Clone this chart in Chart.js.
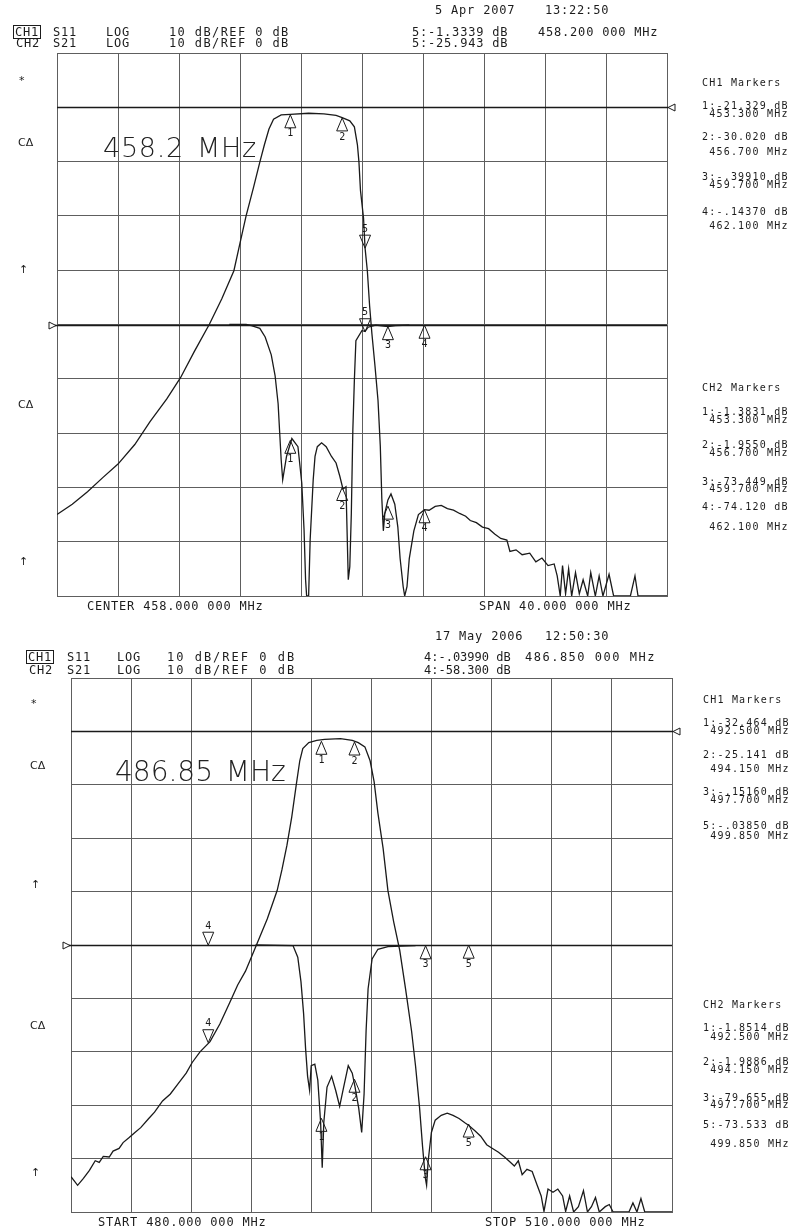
<!DOCTYPE html>
<html>
<head>
<meta charset="utf-8">
<script src="https://cdn.jsdelivr.net/npm/chart.js@4.4.1/dist/chart.umd.min.js"></script>
<style>
  body { margin: 0; background: #fff; }
  #page { position: relative; width: 793px; height: 1230px; overflow: hidden; background: #fff; color: #1c1c1c; }
  canvas { position: absolute; left: 0; }
  .t { position: absolute; font-family: "DejaVu Sans Mono", monospace; font-size: 12px; line-height: 12px; letter-spacing: 0.8px; white-space: pre; }
  .r { letter-spacing: 0; }
  .m { font-size: 10px; line-height: 10px; letter-spacing: 1.2px; }
  .s { font-family: "DejaVu Sans", sans-serif; font-size: 11px; line-height: 11px; letter-spacing: 0; }
  .big { font-family: "DejaVu Sans ExtraLight", "DejaVu Sans", sans-serif; font-weight: 200; font-size: 27px; line-height: 27px; letter-spacing: 0.7px; word-spacing: 4px; color: #222; }
  .box { border: 1px solid #1c1c1c; padding: 0 1px; margin-left: -3px; margin-top: -1px; }
</style>
</head>
<body>
<div id="page">
  <canvas id="topChart" width="793" height="615" style="top:0"></canvas>
  <canvas id="botChart" width="793" height="615" style="top:615px"></canvas>

  <!-- top analyzer header -->
  <div class="t" style="left:435px;top:4px">5 Apr 2007</div>
  <div class="t" style="left:545px;top:4px">13:22:50</div>
  <div class="t box" style="left:16px;top:26px">CH1</div>
  <div class="t" style="left:53px;top:26px">S11</div>
  <div class="t" style="left:106px;top:26px">LOG</div>
  <div class="t" style="left:169px;top:26px;letter-spacing:1.4px">10 dB/REF 0 dB</div>
  <div class="t" style="left:412px;top:26px">5:-1.3339 dB</div>
  <div class="t" style="left:538px;top:26px">458.200 000 MHz</div>
  <div class="t" style="left:16px;top:37px">CH2</div>
  <div class="t" style="left:53px;top:37px">S21</div>
  <div class="t" style="left:106px;top:37px">LOG</div>
  <div class="t" style="left:169px;top:37px;letter-spacing:1.4px">10 dB/REF 0 dB</div>
  <div class="t" style="left:412px;top:37px">5:-25.943 dB</div>

  <div class="t s" style="left:19px;top:75px">*</div>
  <div class="t s" style="left:18px;top:137px">CΔ</div>
  <div class="t s" style="left:19px;top:264px">↑</div>
  <div class="t s" style="left:18px;top:399px">CΔ</div>
  <div class="t s" style="left:19px;top:556px">↑</div>

  <div class="t big" style="left:103px;top:134px">458.2 MHz</div>

  <div class="t" style="left:87px;top:600px">CENTER 458.000 000 MHz</div>
  <div class="t" style="left:479px;top:600px">SPAN 40.000 000 MHz</div>

  <div class="t m" style="left:702px;top:78px">CH1 Markers</div>
  <div class="t m" style="left:702px;top:101px">1:-21.329 dB</div>
  <div class="t m" style="left:702px;top:109px"> 453.300 MHz</div>
  <div class="t m" style="left:702px;top:132px">2:-30.020 dB</div>
  <div class="t m" style="left:702px;top:147px"> 456.700 MHz</div>
  <div class="t m" style="left:702px;top:172px">3:-.39910 dB</div>
  <div class="t m" style="left:702px;top:180px"> 459.700 MHz</div>
  <div class="t m" style="left:702px;top:207px">4:-.14370 dB</div>
  <div class="t m" style="left:702px;top:221px"> 462.100 MHz</div>
  <div class="t m" style="left:702px;top:383px">CH2 Markers</div>
  <div class="t m" style="left:702px;top:407px">1:-1.3831 dB</div>
  <div class="t m" style="left:702px;top:415px"> 453.300 MHz</div>
  <div class="t m" style="left:702px;top:440px">2:-1.9550 dB</div>
  <div class="t m" style="left:702px;top:448px"> 456.700 MHz</div>
  <div class="t m" style="left:702px;top:477px">3:-73.449 dB</div>
  <div class="t m" style="left:702px;top:484px"> 459.700 MHz</div>
  <div class="t m" style="left:702px;top:502px">4:-74.120 dB</div>
  <div class="t m" style="left:702px;top:522px"> 462.100 MHz</div>

  <!-- bottom analyzer header -->
  <div class="t" style="left:435px;top:630px">17 May 2006</div>
  <div class="t" style="left:545px;top:630px">12:50:30</div>
  <div class="t box" style="left:29px;top:651px">CH1</div>
  <div class="t" style="left:67px;top:651px">S11</div>
  <div class="t" style="left:117px;top:651px">LOG</div>
  <div class="t" style="left:167px;top:651px;letter-spacing:2px">10 dB/REF 0 dB</div>
  <div class="t r" style="left:424px;top:651px">4:-.03990 dB</div>
  <div class="t" style="left:525px;top:651px;letter-spacing:1.5px">486.850 000 MHz</div>
  <div class="t" style="left:29px;top:664px">CH2</div>
  <div class="t" style="left:67px;top:664px">S21</div>
  <div class="t" style="left:117px;top:664px">LOG</div>
  <div class="t" style="left:167px;top:664px;letter-spacing:2px">10 dB/REF 0 dB</div>
  <div class="t r" style="left:424px;top:664px">4:-58.300 dB</div>

  <div class="t s" style="left:31px;top:698px">*</div>
  <div class="t s" style="left:30px;top:760px">CΔ</div>
  <div class="t s" style="left:31px;top:879px">↑</div>
  <div class="t s" style="left:30px;top:1020px">CΔ</div>
  <div class="t s" style="left:31px;top:1167px">↑</div>

  <div class="t big" style="left:115px;top:758px;font-size:28px;line-height:28px;letter-spacing:0">486.85 MHz</div>

  <div class="t" style="left:98px;top:1216px">START 480.000 000 MHz</div>
  <div class="t" style="left:485px;top:1216px">STOP 510.000 000 MHz</div>

  <div class="t m" style="left:703px;top:695px">CH1 Markers</div>
  <div class="t m" style="left:703px;top:718px">1:-32.464 dB</div>
  <div class="t m" style="left:703px;top:726px"> 492.500 MHz</div>
  <div class="t m" style="left:703px;top:750px">2:-25.141 dB</div>
  <div class="t m" style="left:703px;top:764px"> 494.150 MHz</div>
  <div class="t m" style="left:703px;top:787px">3:-.15160 dB</div>
  <div class="t m" style="left:703px;top:795px"> 497.700 MHz</div>
  <div class="t m" style="left:703px;top:821px">5:-.03850 dB</div>
  <div class="t m" style="left:703px;top:831px"> 499.850 MHz</div>
  <div class="t m" style="left:703px;top:1000px">CH2 Markers</div>
  <div class="t m" style="left:703px;top:1023px">1:-1.8514 dB</div>
  <div class="t m" style="left:703px;top:1032px"> 492.500 MHz</div>
  <div class="t m" style="left:703px;top:1057px">2:-1.9886 dB</div>
  <div class="t m" style="left:703px;top:1065px"> 494.150 MHz</div>
  <div class="t m" style="left:703px;top:1093px">3:-79.655 dB</div>
  <div class="t m" style="left:703px;top:1100px"> 497.700 MHz</div>
  <div class="t m" style="left:703px;top:1120px">5:-73.533 dB</div>
  <div class="t m" style="left:703px;top:1139px"> 499.850 MHz</div>
</div>

<script>
// ---- sweep settings (MHz, dB) ----
const topStart = 438, topStop = 478;     // center 458, span 40
const botStart = 480, botStop = 510;
const dbPerDiv = 10;
const s21Range = [-90, 10];   // CH2 ref 0 dB at division 9
const s11Range = [-50, 50];   // CH1 ref 0 dB at division 5

// ---- top sweep: S21 transmission ----
const topS21Freq = [438.0, 439.0, 440.0, 441.0, 442.0, 443.1, 444.1, 445.2, 446.1, 447.0,
  448.0, 448.8, 449.6, 450.0, 450.4, 450.9, 451.3, 451.6, 451.9, 452.2,
  452.7, 453.3, 454.5, 455.5, 456.3, 456.7, 457.2, 457.5, 457.7, 457.8,
  457.9, 458.1, 458.2, 458.35, 458.5, 458.65, 458.85, 459.05, 459.2, 459.3,
  459.4, 459.5, 459.7, 459.9, 460.15, 460.35, 460.5, 460.7, 460.8, 460.95,
  461.1, 461.4, 461.7, 462.1, 462.4, 462.8, 463.2, 463.6, 464.0, 464.4,
  464.8, 465.1, 465.5, 465.9, 466.3, 466.7, 467.1, 467.5, 467.7, 468.1,
  468.5, 469.0, 469.4, 469.8, 470.2, 470.6, 470.8, 471.0, 471.15, 471.35,
  471.55, 471.75, 472.0, 472.25, 472.5, 472.8, 473.0, 473.3, 473.55, 473.8,
  474.2, 474.5, 475.6, 475.9, 476.1, 478.0];
const topS21Db = [-75.0, -73.1, -70.8, -68.2, -65.7, -62.1, -57.9, -53.7, -49.8, -45.0,
  -39.9, -35.3, -30.1, -25.0, -20.0, -14.6, -10.1, -6.9, -4.0, -2.2,
  -1.4, -1.3, -1.1, -1.2, -1.5, -1.9, -2.5, -3.6, -6.9, -10.1,
  -15.3, -20.4, -25.9, -30.1, -36.6, -41.7, -47.6, -54.0, -62.4, -72.1,
  -78.0, -74.7, -72.3, -71.2, -73.1, -77.3, -83.1, -88.3, -90.0, -88.3,
  -83.1, -78.0, -75.0, -74.1, -74.2, -73.5, -73.3, -73.9, -74.2, -74.8,
  -75.3, -76.1, -76.5, -77.3, -77.6, -78.6, -79.4, -79.7, -81.8, -81.5,
  -82.4, -82.1, -83.7, -83.0, -84.4, -84.1, -86.3, -90.0, -84.4, -89.6,
  -85.0, -90.0, -85.7, -89.6, -87.0, -90.0, -85.7, -90.0, -86.3, -90.0,
  -86.0, -90.0, -90.0, -86.3, -90.0, -90.0];

// ---- top sweep: S11 reflection ----
const topS11Freq = [449.3, 450.4, 450.75, 451.3, 451.65, 452.05, 452.3, 452.5, 452.6, 452.7,
  452.8, 453.05, 453.4, 453.8, 454.05, 454.2, 454.3, 454.37, 454.5, 454.6,
  454.8, 454.92, 455.07, 455.35, 455.65, 456.0, 456.3, 456.55, 456.75, 456.95,
  457.1, 457.2, 457.3, 457.4, 457.5, 457.6, 458.0, 458.2, 458.4, 458.9,
  459.7, 460.2, 461.1];
const topS11Db = [0.0, 0.0, -0.2, -0.7, -2.3, -5.6, -9.4, -14.6, -19.8, -24.9,
  -28.6, -24.3, -21.0, -22.5, -29.2, -37.8, -47.0, -50.0, -50.0, -39.7,
  -28.6, -24.3, -22.5, -21.8, -22.5, -24.3, -25.5, -28.0, -30.3, -29.9,
  -47.0, -44.6, -34.8, -19.4, -10.2, -3.0, -1.1, -1.3, -0.5, -0.1,
  -0.4, -0.2, -0.1];

// ---- top markers (number, MHz, CH1 S11 dB, CH2 S21 dB) ----
const topMarkerNum = [1, 2, 3, 4, 5];
const topMarkerFreq = [453.3, 456.7, 459.7, 462.1, 458.2];
const topMarkerS11 = [-21.329, -30.020, -0.39910, -0.14370, -1.3339];
const topMarkerS21 = [-1.3831, -1.9550, -73.449, -74.120, -25.943];
const topActive = 5;

// ---- bottom sweep: S21 transmission ----
const botS21Freq = [480.0, 480.33, 480.62, 480.92, 481.21, 481.41, 481.61, 481.91, 482.1, 482.4,
  482.6, 482.89, 483.19, 483.48, 483.88, 484.17, 484.57, 484.96, 485.36, 485.75,
  486.05, 486.44, 486.94, 487.43, 487.92, 488.32, 488.71, 489.21, 489.8, 490.29,
  490.53, 490.78, 491.02, 491.24, 491.42, 491.57, 491.87, 492.27, 492.66, 493.45,
  494.04, 494.34, 494.67, 494.93, 495.13, 495.32, 495.58, 495.82, 496.11, 496.41,
  496.7, 497.0, 497.2, 497.4, 497.55, 497.69, 497.75, 497.83, 497.99, 498.18,
  498.48, 498.78, 499.07, 499.37, 499.66, 499.86, 500.16, 500.45, 500.75, 501.04,
  501.34, 501.64, 501.93, 502.13, 502.33, 502.52, 502.76, 503.02, 503.27, 503.47,
  503.61, 503.81, 504.06, 504.3, 504.54, 504.69, 504.89, 505.09, 505.33, 505.58,
  505.78, 505.98, 506.18, 506.37, 506.67, 506.87, 507.06, 507.85, 508.05, 508.25,
  508.45, 508.64, 510.0];
const botS21Db = [-83.4, -85.0, -83.7, -82.2, -80.4, -80.7, -79.6, -79.7, -78.6, -78.1,
  -77.0, -76.1, -75.1, -74.2, -72.5, -71.3, -69.2, -67.9, -65.9, -64.0,
  -62.0, -60.0, -58.1, -54.8, -50.8, -47.5, -44.9, -40.4, -35.1, -29.8,
  -25.9, -21.3, -16.0, -10.1, -5.5, -3.2, -2.1, -1.7, -1.5, -1.35,
  -1.7, -2.1, -2.9, -5.5, -9.4, -15.3, -21.9, -29.8, -35.7, -41.0,
  -48.2, -56.1, -62.7, -70.5, -77.8, -83.7, -85.0, -80.4, -75.1, -72.8,
  -71.9, -71.5, -71.9, -72.5, -73.3, -73.8, -74.8, -75.8, -77.4, -78.1,
  -78.8, -79.7, -80.7, -81.4, -80.4, -83.0, -82.0, -82.4, -85.0, -87.0,
  -89.9, -85.7, -86.3, -85.7, -87.0, -89.9, -87.0, -90.0, -89.0, -86.0,
  -90.0, -89.0, -87.3, -90.0, -89.0, -88.6, -90.0, -90.0, -88.3, -90.0,
  -87.5, -90.0, -90.0];

// ---- bottom sweep: S11 reflection ----
const botS11Freq = [489.21, 491.08, 491.32, 491.48, 491.61, 491.71, 491.81, 491.91, 491.99, 492.17,
  492.32, 492.46, 492.54, 492.62, 492.78, 493.01, 493.21, 493.41, 493.61, 493.84,
  494.04, 494.18, 494.36, 494.51, 494.63, 494.73, 494.83, 495.03, 495.32, 495.82,
  497.2];
const botS11Db = [0.0, -0.1, -2.3, -6.9, -12.8, -19.4, -24.6, -27.2, -22.6, -22.3,
  -25.3, -33.2, -41.7, -33.2, -26.6, -24.6, -27.2, -30.2, -26.6, -22.6,
  -24.0, -26.6, -30.5, -35.1, -27.9, -16.1, -8.2, -2.6, -0.8, -0.3,
  -0.1];

// ---- bottom markers ----
const botMarkerNum = [1, 2, 3, 5, 4];
const botMarkerFreq = [492.5, 494.15, 497.7, 499.85, 486.85];
const botMarkerS11 = [-32.464, -25.141, -0.15160, -0.03850, -0.03990];
const botMarkerS21 = [-1.8514, -1.9886, -79.655, -73.533, -58.300];
const botActive = 4;

const INK = '#1a1a1a';
const GRID = '#5e5e5e';

function toPoints(freqs, dbs) {
    return freqs.map((f, i) => ({ x: f, y: dbs[i] }));
}

// reference lines with the ◁ / ▷ position indicators
const refPlugin = {
    id: 'refLines',
    afterDatasetsDraw(chart) {
        const { ctx, chartArea: a, scales } = chart;
        const y21 = Math.round(scales.y.getPixelForValue(0)) + 0.5;
        const y11 = Math.round(scales.y2.getPixelForValue(0)) + 0.5;
        ctx.save();
        ctx.strokeStyle = INK;
        ctx.lineWidth = 1.6;
        ctx.beginPath();
        ctx.moveTo(a.left, y21); ctx.lineTo(a.right + 1, y21);
        ctx.moveTo(a.left - 2, y11); ctx.lineTo(a.right, y11);
        ctx.stroke();
        ctx.lineWidth = 1;
        // CH2 indicator on the right
        ctx.beginPath();
        ctx.moveTo(a.right + 1, y21);
        ctx.lineTo(a.right + 8, y21 - 3.5);
        ctx.lineTo(a.right + 8, y21 + 3.5);
        ctx.closePath();
        ctx.stroke();
        // CH1 indicator on the left
        ctx.beginPath();
        ctx.moveTo(a.left - 1, y11);
        ctx.lineTo(a.left - 8, y11 - 3.5);
        ctx.lineTo(a.left - 8, y11 + 3.5);
        ctx.closePath();
        ctx.stroke();
        ctx.restore();
    }
};

function markerPlugin(nums, freqs, s11, s21, active) {
    return {
        id: 'vnaMarkers',
        afterDatasetsDraw(chart) {
            const { ctx, scales } = chart;
            ctx.save();
            ctx.strokeStyle = INK;
            ctx.fillStyle = INK;
            ctx.lineWidth = 1;
            ctx.font = '10px "DejaVu Sans Mono", monospace';
            ctx.textAlign = 'center';
            const draw = (x, y, num, isActive) => {
                const w = 5.5, h = 13;
                ctx.beginPath();
                ctx.moveTo(x, y);
                if (isActive) {
                    ctx.lineTo(x - w, y - h); ctx.lineTo(x + w, y - h);
                } else {
                    ctx.lineTo(x - w, y + h); ctx.lineTo(x + w, y + h);
                }
                ctx.closePath();
                ctx.stroke();
                ctx.textBaseline = isActive ? 'bottom' : 'top';
                ctx.fillText(String(num), x, isActive ? y - h - 1 : y + h + 1);
            };
            nums.forEach((n, i) => {
                const x = scales.x.getPixelForValue(freqs[i]);
                draw(x, scales.y2.getPixelForValue(s11[i]), n, n === active);
                draw(x, scales.y.getPixelForValue(s21[i]), n, n === active);
            });
            ctx.restore();
        }
    };
}

function buildChart(canvasId, start, stop, s21, s11, padding, markers) {
    const ctx = document.getElementById(canvasId).getContext('2d');
    const gridOpts = { color: GRID, lineWidth: 1, drawTicks: false };
    return new Chart(ctx, {
        type: 'line',
        data: {
            datasets: [
                { data: s21, yAxisID: 'y', borderColor: INK, borderWidth: 1.3, pointRadius: 0, tension: 0 },
                { data: s11, yAxisID: 'y2', borderColor: INK, borderWidth: 1.3, pointRadius: 0, tension: 0 },
            ],
        },
        options: {
            responsive: false,
            animation: false,
            events: [],
            layout: { padding },
            plugins: { legend: { display: false }, tooltip: { enabled: false } },
            scales: {
                x: {
                    type: 'linear', min: start, max: stop,
                    ticks: { display: false, stepSize: (stop - start) / 10 },
                    grid: gridOpts,
                    border: { color: GRID, width: 1 },
                },
                y: {
                    min: s21Range[0], max: s21Range[1],
                    ticks: { display: false, stepSize: dbPerDiv },
                    grid: gridOpts,
                    border: { color: GRID, width: 1 },
                },
                y2: {
                    position: 'right', min: s11Range[0], max: s11Range[1],
                    ticks: { display: false },
                    grid: { display: false, drawTicks: false },
                    border: { display: false },
                },
            },
        },
        plugins: [refPlugin, markers],
    });
}

buildChart('topChart', topStart, topStop,
    toPoints(topS21Freq, topS21Db), toPoints(topS11Freq, topS11Db),
    { left: 57, right: 126, top: 53, bottom: 19 },
    markerPlugin(topMarkerNum, topMarkerFreq, topMarkerS11, topMarkerS21, topActive));

buildChart('botChart', botStart, botStop,
    toPoints(botS21Freq, botS21Db), toPoints(botS11Freq, botS11Db),
    { left: 71, right: 121, top: 63, bottom: 18 },
    markerPlugin(botMarkerNum, botMarkerFreq, botMarkerS11, botMarkerS21, botActive));
</script>
</body>
</html>
